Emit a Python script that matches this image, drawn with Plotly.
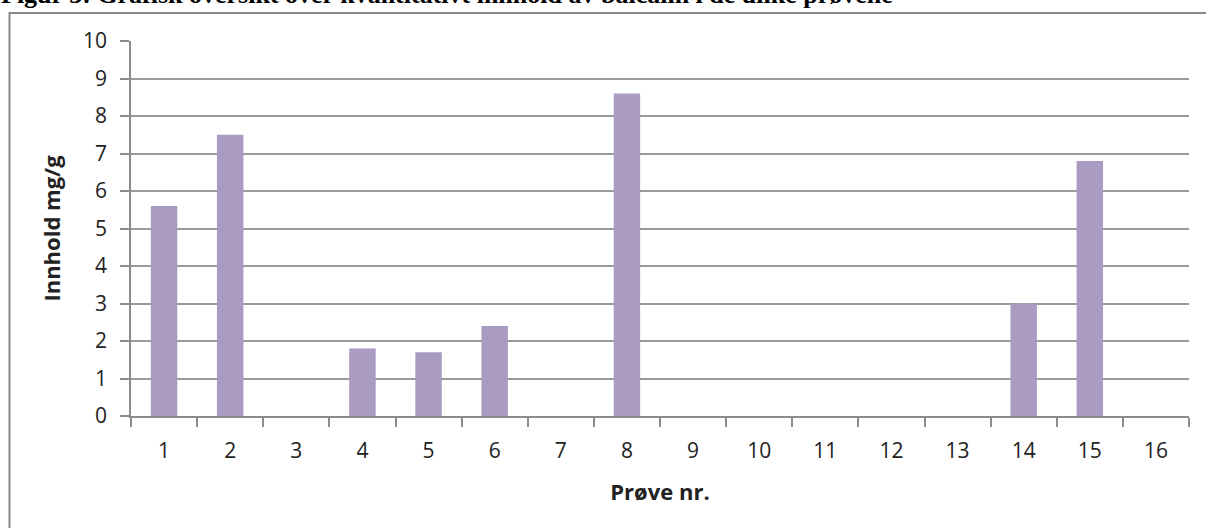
import plotly.graph_objects as go

samples = ["1", "2", "3", "4", "5", "6", "7", "8", "9", "10", "11", "12", "13", "14", "15", "16"]
content_mg_g = [5.6, 7.5, None, 1.8, 1.7, 2.4, None, 8.6, None, None, None, None, None, 3.0, 6.8, None]
y_ticks = [0, 1, 2, 3, 4, 5, 6, 7, 8, 9, 10]

title_text = "Figur 3: Grafisk oversikt over kvantitativt innhold av baicalin i de ulike prøvene"

W, H = 1206, 528
L, R, T, B = 131, 17, 41, 112
pw, ph = W - L - R, H - T - B

def px2x(px):
    return (px - L) / pw

def px2y(py):
    return (H - B - py) / ph

fig = go.Figure()
fig.add_trace(go.Bar(
    x=samples, y=content_mg_g,
    marker=dict(color="#A99BC1", line=dict(width=0)),
))

FONT = "Open Sans, Noto Sans, sans-serif"
axis_font = dict(family=FONT, size=21, color="#222")

fig.update_layout(
    width=W, height=H,
    margin=dict(l=L, r=R, t=T, b=B),
    paper_bgcolor="white", plot_bgcolor="white",
    bargap=0.6,
    showlegend=False,
    xaxis=dict(
        type="category",
        tickson="boundaries",
        ticks="outside", ticklen=9, tickcolor="#8c8c8c", tickwidth=1.5,
        showline=True, linecolor="#8c8c8c", linewidth=1.5,
        showgrid=False,
        tickfont=axis_font,
        ticklabelstandoff=15,
        title=dict(text="<b>Prøve nr.</b>", font=dict(family=FONT, size=22, color="#222"), standoff=22),
    ),
    yaxis=dict(
        range=[0, 10],
        tickvals=y_ticks,
        ticks="outside", ticklen=9, tickcolor="#8c8c8c", tickwidth=1.5,
        showline=True, linecolor="#8c8c8c", linewidth=1.5,
        showgrid=True, gridcolor="#9a9a9a", gridwidth=1.5,
        zeroline=False,
        tickfont=axis_font,
        ticklabelstandoff=9,
        title=dict(text="<b>Innhold mg/g</b>", font=dict(family=FONT, size=22, color="#222"), standoff=16),
    ),
    shapes=[dict(
        type="rect", xref="paper", yref="paper",
        x0=px2x(9.5), x1=px2x(1215), y0=px2y(540), y1=px2y(13),
        line=dict(color="#888888", width=2), fillcolor="rgba(0,0,0,0)", layer="below",
    )],
    annotations=[dict(
        text="<b>" + title_text + "</b>", showarrow=False,
        xref="paper", yref="paper", x=px2x(-1), y=px2y(10.5),
        xanchor="left", yanchor="bottom",
        font=dict(family="Liberation Serif, Times New Roman, serif", size=26, color="black"),
    )],
)

fig.write_html("out.html", config={"displayModeBar": False},
               post_script="document.body.style.margin='0';document.body.style.overflow='hidden';")
